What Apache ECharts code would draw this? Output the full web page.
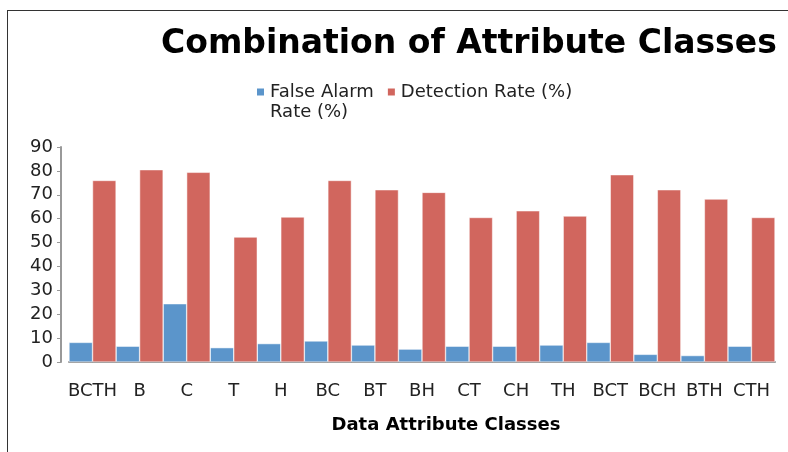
<!DOCTYPE html>
<html>
<head>
<meta charset="utf-8">
<script src="https://cdn.jsdelivr.net/npm/echarts@6/dist/echarts.min.js"></script>
<style>
  html, body { margin: 0; padding: 0; background: #fff; overflow: hidden; }
  #chart { width: 788px; height: 452px; }
  #frame {
    position: absolute; left: 7px; top: 10px; width: 780px; height: 441px;
    border-left: 1px solid #333; border-top: 1px solid #333; pointer-events: none;
  }
</style>
</head>
<body>
<div id="chart"></div>
<div id="frame"></div>
<script>
// attribute class combinations
var categories = ['BCTH', 'B', 'C', 'T', 'H', 'BC', 'BT', 'BH', 'CT', 'CH', 'TH', 'BCT', 'BCH', 'BTH', 'CTH'];
var falseAlarm = [8.2, 6.6, 24.4, 6.0, 7.7, 8.8, 7.1, 5.4, 6.6, 6.6, 7.1, 8.2, 3.2, 2.7, 6.6];
var detection = [76.0, 80.5, 79.4, 52.3, 60.7, 76.0, 72.1, 71.0, 60.5, 63.3, 61.1, 78.4, 72.1, 68.2, 60.5];
var yTicks = { min: 0, max: 90, step: 10 };

var chart = echarts.init(document.getElementById('chart'));

var font = 'DejaVu Sans';

var option = {
    animation: false,
    title: {
        text: 'Combination of Attribute Classes',
        left: 156,
        top: 23,
        textStyle: { fontFamily: font, fontSize: 33, fontWeight: 'bold', color: '#000' }
    },
    legend: {
        left: 250,
        top: 57,
        itemWidth: 9,
        itemHeight: 9,
        itemGap: 12,
        icon: 'rect',
        textStyle: { fontFamily: font, fontSize: 18, color: '#222', lineHeight: 20 },
        data: ['False Alarm Rate (%)', 'Detection Rate (%)'],
        formatter: function (name) {
            // blank first line keeps "False Alarm" level with the icon
            return name === 'False Alarm Rate (%)' ? ' \nFalse Alarm\nRate (%)' : name;
        }
    },
    grid: { left: 69, right: 13, top: 147, bottom: 90 },
    xAxis: {
        type: 'category',
        data: categories,
        axisLine: { lineStyle: { color: '#999', width: 2 } },
        axisTick: { show: false },
        axisLabel: { fontFamily: font, fontSize: 18, color: '#222', margin: 20, interval: 0 },
        name: 'Data Attribute Classes',
        nameLocation: 'middle',
        nameGap: 54,
        nameTextStyle: { fontFamily: font, fontSize: 18, fontWeight: 'bold', color: '#000', padding: [0, 0, 0, 48] }
    },
    yAxis: {
        type: 'value',
        min: yTicks.min,
        max: yTicks.max,
        interval: yTicks.step,
        offset: 8,
        axisLine: { show: true, lineStyle: { color: '#999', width: 2 } },
        axisTick: { show: true, length: 4, lineStyle: { color: '#999' } },
        splitLine: { show: false },
        axisLabel: { fontFamily: font, fontSize: 18, color: '#222', margin: 8 }
    },
    series: [
        {
            name: 'False Alarm Rate (%)',
            type: 'bar',
            data: falseAlarm,
            barGap: 0,
            barCategoryGap: 0,
            itemStyle: { color: '#5b95cb', borderColor: '#fff', borderWidth: 0.5 }
        },
        {
            name: 'Detection Rate (%)',
            type: 'bar',
            data: detection,
            itemStyle: { color: '#d1665e', borderColor: '#fff', borderWidth: 0.5 }
        }
    ]
};

chart.setOption(option);
</script>
</body>
</html>
